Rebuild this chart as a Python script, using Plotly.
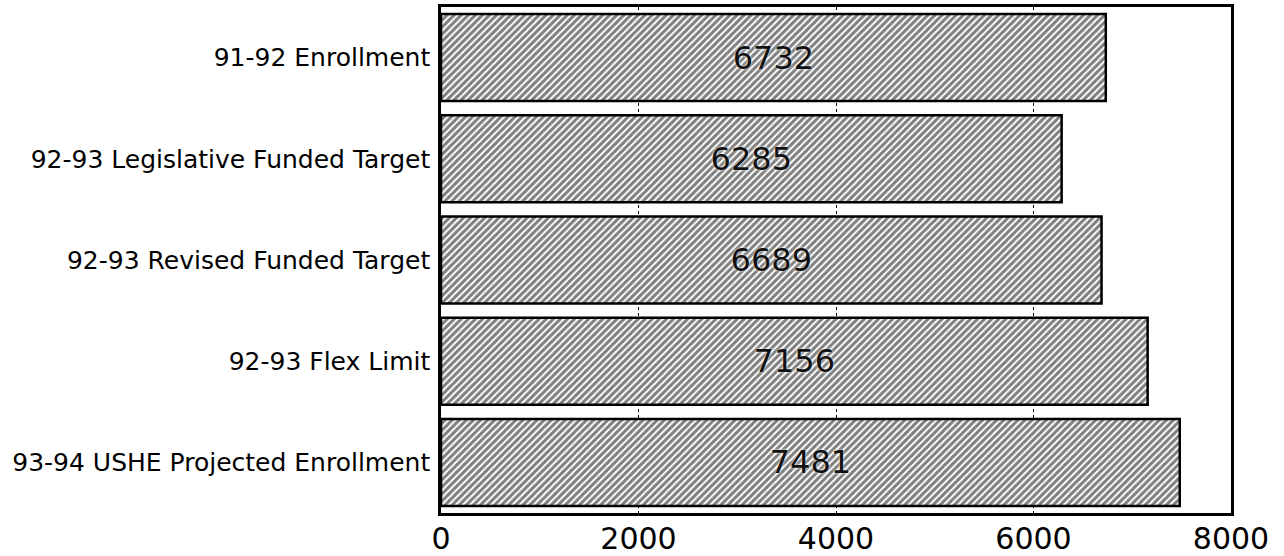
import plotly.graph_objects as go

categories = [
    "91-92 Enrollment",
    "92-93 Legislative Funded Target",
    "92-93 Revised Funded Target",
    "92-93 Flex Limit",
    "93-94 USHE Projected Enrollment",
]
values = [6732, 6285, 6689, 7156, 7481]
x_ticks = [0, 2000, 4000, 6000, 8000]

fig = go.Figure(
    go.Bar(
        y=categories,
        x=values,
        orientation="h",
        text=[str(v) for v in values],
        textposition="inside",
        insidetextanchor="middle",
        textangle=0,
        constraintext="none",
        textfont=dict(family="DejaVu Sans", size=32, color="#111111",
                      shadow="0px 0px 3px white"),
        marker=dict(
            color="white",
            line=dict(color="black", width=2.5),
            pattern=dict(shape="/", size=5, solidity=0.6, fgcolor="black", bgcolor="white"),
        ),
        width=0.86,
    )
)

fig.update_layout(
    width=1284,
    height=556,
    margin=dict(l=441, r=53, t=7, b=43),
    paper_bgcolor="white",
    plot_bgcolor="white",
    showlegend=False,
    font=dict(family="DejaVu Sans", color="black"),
)
fig.update_xaxes(
    range=[0, 8000],
    tickvals=x_ticks,
    ticktext=[str(t) for t in x_ticks],
    tickfont=dict(family="DejaVu Sans", size=30, color="black"),
    showgrid=True,
    gridcolor="black",
    gridwidth=1,
    griddash="dot",
    zeroline=False,
    showline=True,
    linecolor="black",
    linewidth=2.5,
    mirror=True,
    ticks="",
    ticklabelstandoff=-3,
    automargin=False,
)
fig.update_yaxes(
    autorange="reversed",
    tickfont=dict(family="DejaVu Sans", size=25, color="black"),
    showgrid=False,
    showline=True,
    linecolor="black",
    linewidth=2.5,
    mirror=True,
    ticks="",
    ticklabelstandoff=3,
    automargin=False,
)

fig.write_html(
    "out.html",
    config={"displayModeBar": False},
    post_script="document.body.style.margin='0';document.body.style.overflow='hidden';",
)
